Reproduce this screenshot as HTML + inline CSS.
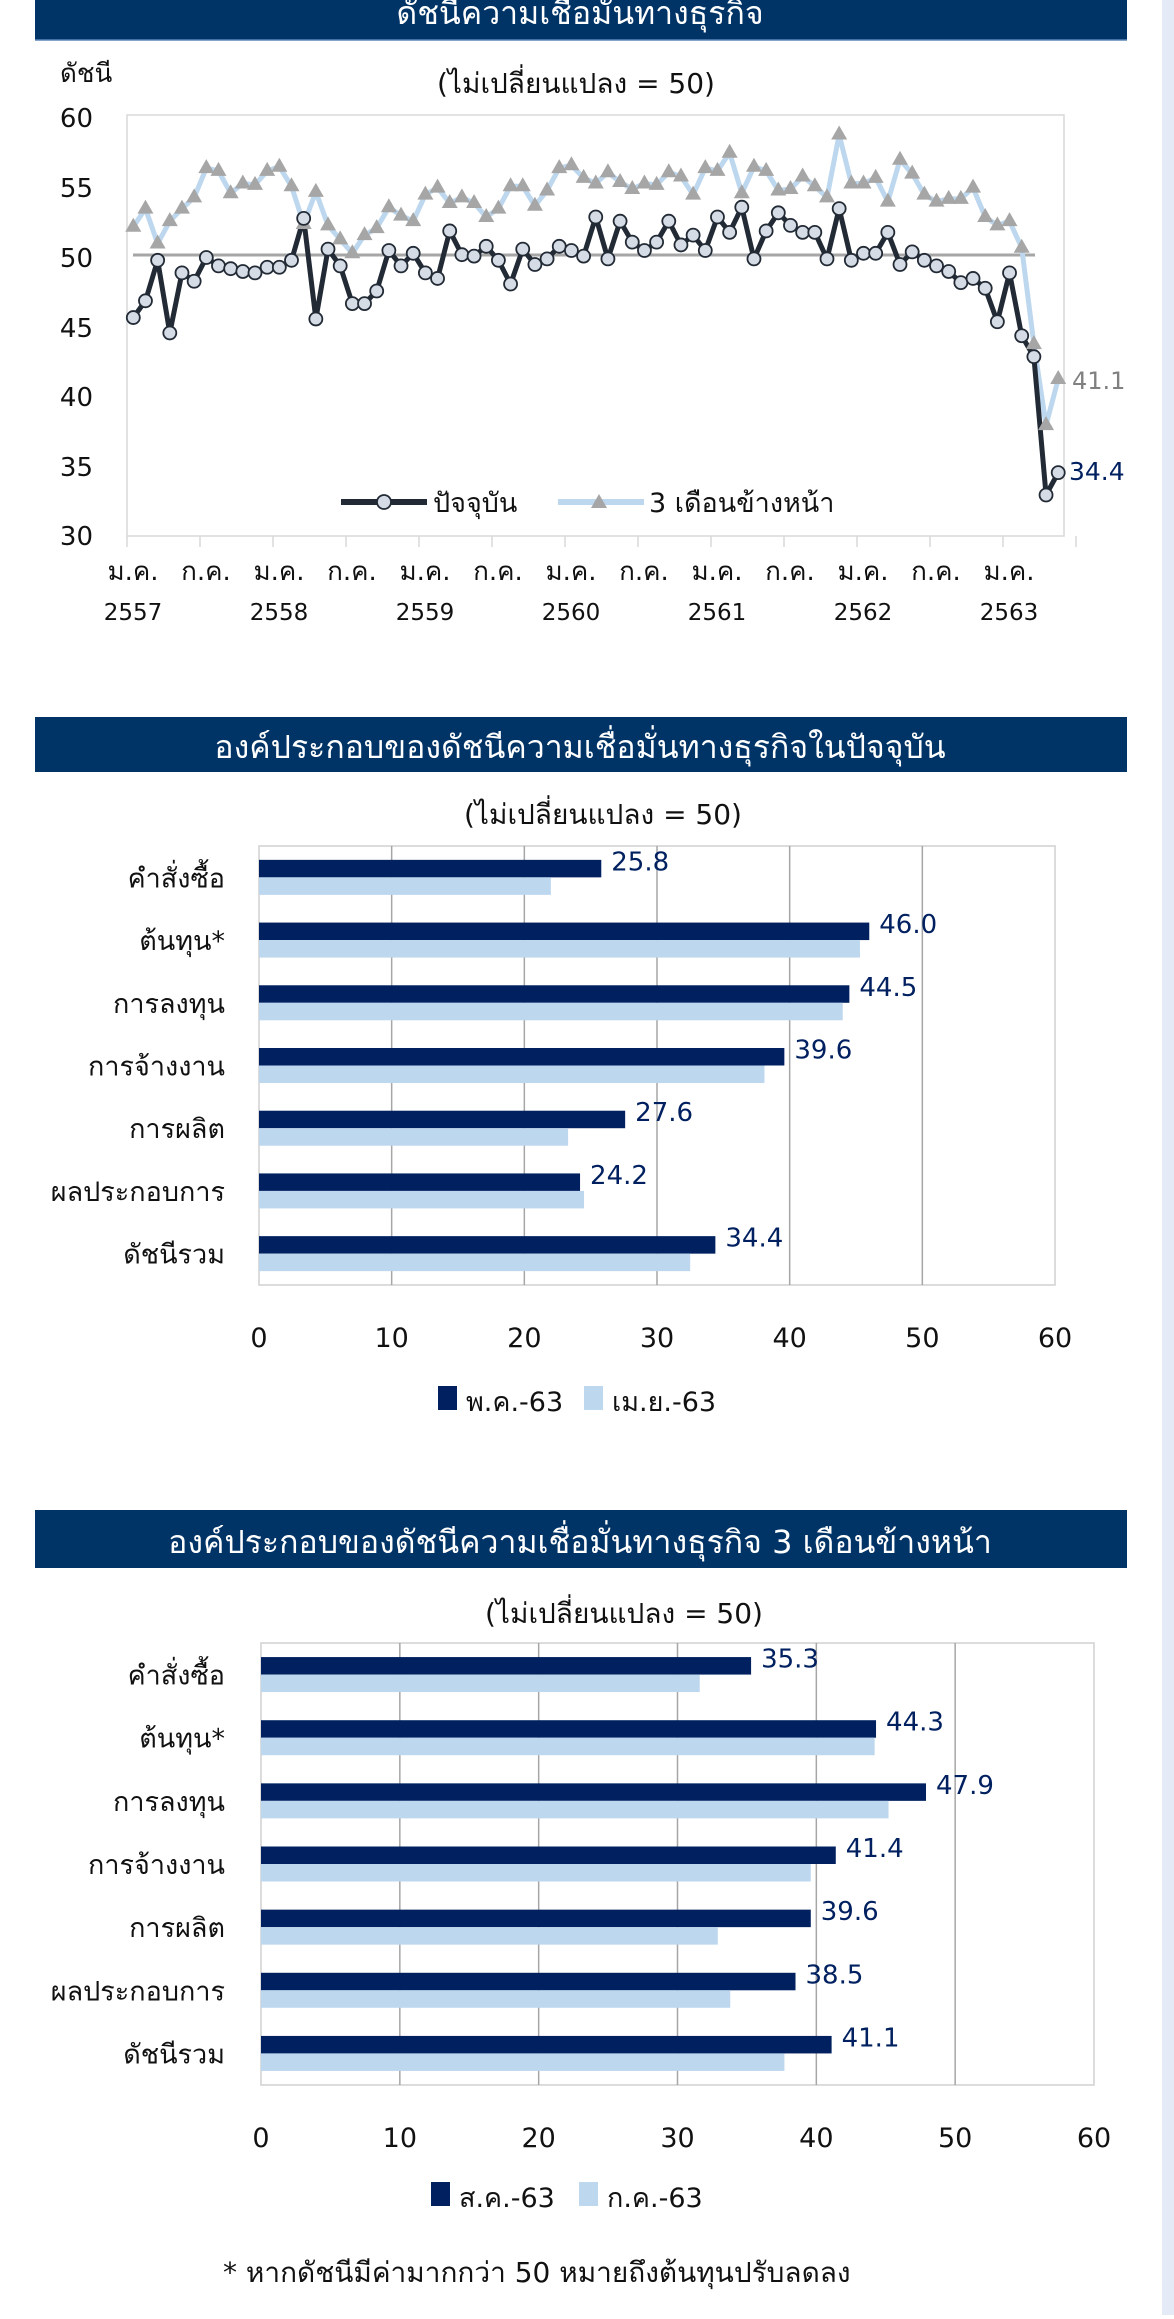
<!DOCTYPE html>
<html><head><meta charset="utf-8">
<style>
html,body{margin:0;padding:0;background:#fff;}
body{width:1174px;height:2315px;position:relative;overflow:hidden;font-family:"DejaVu Sans","Liberation Sans",sans-serif;}
svg text{font-family:"Tahoma","DejaVu Sans","Liberation Sans",sans-serif;}
</style></head>
<body>
<svg id="s" width="1174" height="2315" viewBox="0 0 1174 2315" xmlns="http://www.w3.org/2000/svg">
<rect x="1162" y="0" width="12" height="2315" fill="#e4ebf6"/>
<!-- Chart 1 -->
<rect x="35" y="0" width="1092" height="40" fill="#003366"/>
<line x1="35" y1="40" x2="1127" y2="40" stroke="#5b86b8" stroke-width="1.5"/>
<text x="580" y="24" font-size="32" fill="#fff" text-anchor="middle">ดัชนีความเชื่อมั่นทางธุรกิจ</text>
<text x="60" y="82" font-size="26" fill="#111">ดัชนี</text>
<text x="576" y="93" font-size="28" fill="#111" text-anchor="middle">(ไม่เปลี่ยนแปลง = 50)</text>
<rect x="127" y="115" width="937" height="421" fill="#fff" stroke="#d9d9d9" stroke-width="1.5"/>
<g font-size="26" fill="#111" text-anchor="end">
<text x="93" y="127">60</text><text x="93" y="197">55</text><text x="93" y="267">50</text>
<text x="93" y="337">45</text><text x="93" y="406">40</text><text x="93" y="476">35</text><text x="93" y="545">30</text>
</g>
<line x1="133" y1="255" x2="1035" y2="255" stroke="#a6a6a6" stroke-width="3"/>
<g id="ticks" stroke="#d9d9d9" stroke-width="1.5"></g>
<g id="xl" fill="#111" text-anchor="middle"></g>
<polyline id="p2" fill="none" stroke="#bdd7ee" stroke-width="5" stroke-linejoin="round"/>
<polyline id="p1" fill="none" stroke="#222a35" stroke-width="5" stroke-linejoin="round"/>
<g id="m2" fill="#a6a6a6"></g>
<g id="m1" fill="#d6dce5" stroke="#222a35" stroke-width="1.8"></g>
<text x="1072" y="389" font-size="24" fill="#808080">41.1</text>
<text x="1069" y="480" font-size="25" fill="#002060">34.4</text>
<line x1="341" y1="502" x2="427" y2="502" stroke="#222a35" stroke-width="6"/>
<circle cx="384" cy="502" r="7" fill="#d6dce5" stroke="#222a35" stroke-width="1.8"/>
<text x="433" y="512" font-size="27" fill="#111">ปัจจุบัน</text>
<line x1="558" y1="502" x2="644" y2="502" stroke="#bdd7ee" stroke-width="6"/>
<polygon points="599,494 607,508 591,508" fill="#a6a6a6"/>
<text x="649" y="512" font-size="27" fill="#111">3 เดือนข้างหน้า</text>

<!-- Chart 2 -->
<rect x="35" y="717" width="1092" height="55" fill="#003366"/>
<text x="580" y="758" font-size="32" fill="#fff" text-anchor="middle">องค์ประกอบของดัชนีความเชื่อมั่นทางธุรกิจในปัจจุบัน</text>
<text x="603" y="824" font-size="28" fill="#111" text-anchor="middle">(ไม่เปลี่ยนแปลง = 50)</text>
<g id="c2"></g>
<!-- Chart 3 -->
<rect x="35" y="1510" width="1092" height="58" fill="#003366"/>
<text x="580" y="1553" font-size="32" fill="#fff" text-anchor="middle">องค์ประกอบของดัชนีความเชื่อมั่นทางธุรกิจ 3 เดือนข้างหน้า</text>
<text x="624" y="1623" font-size="28" fill="#111" text-anchor="middle">(ไม่เปลี่ยนแปลง = 50)</text>
<g id="c3"></g>
<text x="223" y="2282" font-size="28" fill="#111">* หากดัชนีมีค่ามากกว่า 50 หมายถึงต้นทุนปรับลดลง</text>
</svg>
<script>
var NS="http://www.w3.org/2000/svg";
function el(p,t,a,txt){var e=document.createElementNS(NS,t);for(var k in a)e.setAttribute(k,a[k]);if(txt!=null)e.textContent=txt;p.appendChild(e);return e;}
var cur=[45.5,46.7,49.6,44.4,48.7,48.1,49.8,49.2,49.0,48.8,48.7,49.1,49.1,49.6,52.6,45.4,50.4,49.2,46.5,46.5,47.4,50.3,49.2,50.1,48.7,48.3,51.7,50.0,49.9,50.6,49.6,47.9,50.4,49.3,49.7,50.6,50.3,49.9,52.7,49.7,52.4,50.9,50.3,50.9,52.4,50.7,51.4,50.3,52.7,51.6,53.4,49.7,51.7,53.0,52.1,51.6,51.6,49.7,53.3,49.6,50.1,50.1,51.6,49.3,50.2,49.6,49.2,48.8,48.0,48.3,47.6,45.2,48.7,44.2,42.7,32.8,34.4];
var fut=[52.0,53.3,50.8,52.4,53.3,54.1,56.2,56.0,54.4,55.1,55.0,56.0,56.3,54.9,52.2,54.5,52.1,51.1,50.1,51.4,51.9,53.4,52.8,52.4,54.3,54.8,53.7,54.1,53.7,52.7,53.3,54.9,54.9,53.5,54.6,56.2,56.4,55.5,55.1,55.9,55.2,54.7,55.1,55.0,55.9,55.6,54.3,56.2,56.0,57.3,54.4,56.3,56.0,54.6,54.7,55.6,54.9,54.1,58.6,55.1,55.1,55.5,53.8,56.8,55.8,54.3,53.8,54.0,54.0,54.8,52.7,52.1,52.4,50.5,43.6,37.8,41.1];
function X(i){return 133.3+i*12.17;}function Y(v){return 115+(60-v)*13.97;}
var a=[],b=[];
for(var i=0;i<77;i++){a.push(X(i)+","+Y(cur[i]));b.push(X(i)+","+Y(fut[i]));}
document.getElementById("p1").setAttribute("points",a.join(" "));
document.getElementById("p2").setAttribute("points",b.join(" "));
var m1=document.getElementById("m1"),m2=document.getElementById("m2");
for(i=0;i<77;i++){var x=X(i),y=Y(fut[i]);el(m2,"polygon",{points:x+","+(y-9)+" "+(x+8)+","+(y+5)+" "+(x-8)+","+(y+5)});}
for(i=0;i<77;i++){el(m1,"circle",{cx:X(i),cy:Y(cur[i]),r:6.5});}
var tk=document.getElementById("ticks"),xl=document.getElementById("xl");
for(var k=0;k<=13;k++){var tx=127+k*73;el(tk,"line",{x1:tx,y1:536,x2:tx,y2:547});}
var yrs=["2557","2558","2559","2560","2561","2562","2563"];
for(k=0;k<13;k++){var cx=133+k*73;el(xl,"text",{x:cx,y:580,"font-size":26},k%2==0?"ม.ค.":"ก.ค.");if(k%2==0)el(xl,"text",{x:cx,y:620,"font-size":23},yrs[k/2]);}
var cats=["คำสั่งซื้อ","ต้นทุน*","การลงทุน","การจ้างงาน","การผลิต","ผลประกอบการ","ดัชนีรวม"];
function bar(gid,x0,x1,y0,y1,dark,light,lab,legY,lx){
 var g=document.getElementById(gid),u=(x1-x0)/60,band=(y1-y0)/7;
 el(g,"rect",{x:x0,y:y0,width:x1-x0,height:y1-y0,fill:"#fff",stroke:"#d0d0d0","stroke-width":1.5});
 for(var t=1;t<6;t++){var gx=x0+t*10*u;el(g,"line",{x1:gx,y1:y0,x2:gx,y2:y1,stroke:"#a6a6a6","stroke-width":1.5});}
 for(t=0;t<=6;t++){el(g,"text",{x:x0+t*10*u,y:y1+62,"font-size":27,fill:"#111","text-anchor":"middle"},String(t*10));}
 for(var c=0;c<7;c++){var cy=y0+band*(c+0.5);
  el(g,"rect",{x:x0,y:cy-17.5,width:dark[c]*u,height:17.5,fill:"#002060"});
  el(g,"rect",{x:x0,y:cy,width:light[c]*u,height:17.5,fill:"#bdd7ee"});
  el(g,"text",{x:x0+dark[c]*u+10,y:cy-7,"font-size":26,fill:"#002060"},dark[c].toFixed(1));
  el(g,"text",{x:225,y:cy+10,"font-size":27,fill:"#111","text-anchor":"end"},cats[c]);}
 el(g,"rect",{x:lx[0],y:legY-14,width:19,height:24,fill:"#002060"});
 el(g,"text",{x:lx[0]+28,y:legY+11,"font-size":27,fill:"#111"},lab[0]);
 el(g,"rect",{x:lx[1],y:legY-14,width:19,height:24,fill:"#bdd7ee"});
 el(g,"text",{x:lx[1]+28,y:legY+11,"font-size":27,fill:"#111"},lab[1]);
}
bar("c2",259,1055,846,1285,[25.8,46.0,44.5,39.6,27.6,24.2,34.4],[22.0,45.3,44.0,38.1,23.3,24.5,32.5],["พ.ค.-63","เม.ย.-63"],1400,[438,584]);
bar("c3",261,1094,1643,2085,[35.3,44.3,47.9,41.4,39.6,38.5,41.1],[31.6,44.2,45.2,39.6,32.9,33.8,37.7],["ส.ค.-63","ก.ค.-63"],2196,[431,579]);
</script>
</body></html>
